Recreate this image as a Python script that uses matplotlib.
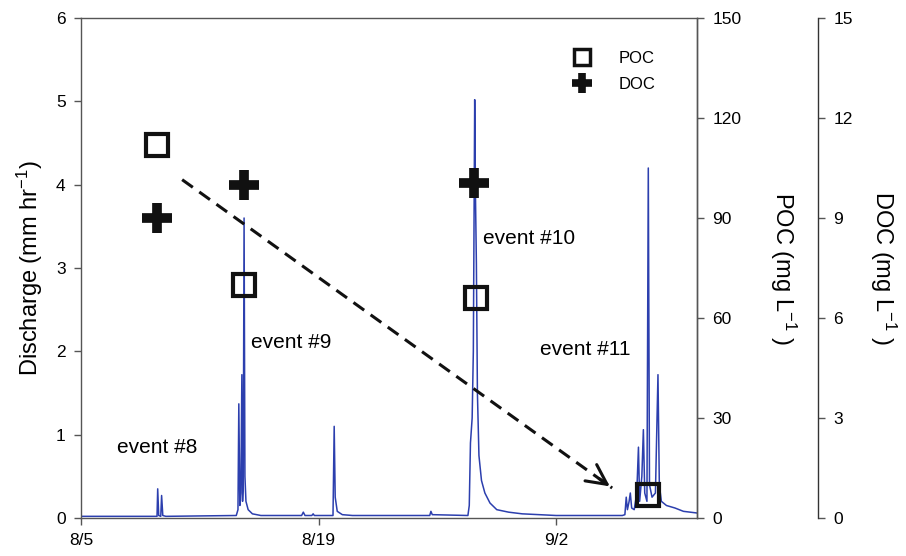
import numpy as np
import pandas as pd
import matplotlib
matplotlib.use("Agg")
import matplotlib.pyplot as plt
import matplotlib.dates as mdates
from matplotlib.lines import Line2D

plt.rcParams['font.family'] = ['Liberation Sans', 'DejaVu Sans']
plt.rcParams['mathtext.fontset'] = 'custom'
plt.rcParams['mathtext.rm'] = 'Liberation Sans'
plt.rcParams['mathtext.it'] = 'Liberation Sans:italic'

start = pd.Timestamp('2011-08-05')

# hydrograph vertices: days after 8/5 and discharge (mm/hr)
q_days = [0.0, 4.40, 4.48, 4.52, 4.58, 4.70, 4.75, 4.82, 5.0,
          9.15, 9.25, 9.30, 9.36, 9.42, 9.48, 9.52, 9.56, 9.61, 9.66, 9.72, 9.85, 10.1, 10.6,
          13.0, 13.1, 13.2, 13.6, 13.68, 13.75,
          14.85, 14.92, 14.98, 15.1, 15.4, 16.0,
          20.55, 20.62, 20.7,
          22.80, 22.88, 22.95, 23.05, 23.12, 23.20, 23.25, 23.30, 23.36, 23.45, 23.6, 23.8,
          24.1, 24.5, 25.2, 26.0, 27.0, 28.0,
          31.9, 32.05, 32.13, 32.2, 32.3, 32.37, 32.45, 32.6, 32.75, 32.85, 32.92, 33.05,
          33.14, 33.22, 33.35, 33.43, 33.5, 33.65, 33.85, 34.0, 34.08, 34.2, 34.5, 35.0,
          35.5, 36.3]
q_vals = [0.02, 0.02, 0.02, 0.35, 0.03, 0.02, 0.27, 0.03, 0.02,
          0.03, 0.10, 1.37, 0.15, 0.30, 1.72, 0.20, 0.40, 3.60, 0.50, 0.20, 0.10, 0.05, 0.03,
          0.03, 0.07, 0.03, 0.03, 0.05, 0.03,
          0.03, 1.10, 0.25, 0.08, 0.04, 0.03,
          0.03, 0.08, 0.04,
          0.03, 0.15, 0.90, 1.20, 2.00, 5.02, 3.80, 3.05, 1.50, 0.75, 0.45, 0.30,
          0.18, 0.10, 0.07, 0.05, 0.04, 0.03,
          0.03, 0.04, 0.25, 0.10, 0.20, 0.30, 0.12, 0.10, 0.30, 0.85, 0.20, 0.50,
          1.06, 0.30, 0.20, 4.20, 0.40, 0.25, 0.30, 1.72, 0.40, 0.20, 0.15, 0.12,
          0.08, 0.06]

# sampled concentrations
poc_days = [4.48, 9.61, 23.29, 33.40]
poc_vals = [112, 70, 66, 7]
doc_days = [4.48, 9.61, 23.17]
doc_vals = [9.0, 10.0, 10.05]

event_labels = ['event #8', 'event #9', 'event #10', 'event #11']
event_pos = [(2.15, 0.85), (10.0, 2.1), (23.7, 3.35), (27.05, 2.02)]

trend_start = (5.96, 4.06)
trend_end = (31.3, 0.36)


def to_dates(days):
    return start + pd.to_timedelta(days, unit='D')


fig = plt.figure(figsize=(9.06, 5.56), dpi=100)
ax = fig.add_axes([81 / 906, 38 / 556, 616 / 906, 500 / 556])
poc_ax = ax.twinx()
doc_ax = ax.twinx()
doc_ax.spines['right'].set_position(('axes', (818 - 81) / 616))

spine_col = '#555555'
for a in (ax, poc_ax, doc_ax):
    for s in a.spines.values():
        s.set_color(spine_col)
        s.set_linewidth(1.0)
    a.tick_params(direction='out', length=5, width=1, color=spine_col,
                  labelsize=12.5, pad=6)
for a in (poc_ax, doc_ax):
    a.spines['left'].set_visible(False)
    a.spines['top'].set_visible(False)
    a.spines['bottom'].set_visible(False)
doc_ax.spines['right'].set_color('#333333')

ax.plot(to_dates(q_days), q_vals, color='#2c3fae', lw=1.1, zorder=2)

ax.set_xlim(start, to_dates([36.3])[0])
ax.set_ylim(0, 6)
ax.set_xticks(to_dates([0, 14, 28]))
ax.xaxis.set_major_formatter(mdates.DateFormatter('%-m/%-d'))
ax.set_yticks(range(0, 7))
ax.set_ylabel('Discharge (mm hr$^{-1}$)', fontsize=17, labelpad=8)

poc_ax.set_ylim(0, 150)
poc_ax.set_yticks(range(0, 151, 30))
poc_ax.plot(to_dates(poc_days), poc_vals, ls='none', marker='s', ms=16,
            mfc='none', mec='#111111', mew=3, zorder=5)
poc_ax.set_ylabel('POC (mg L$^{-1}$ )', fontsize=17, rotation=270,
                  va='bottom', labelpad=19)

doc_ax.set_ylim(0, 15)
doc_ax.set_yticks(range(0, 16, 3))
doc_ax.plot(to_dates(doc_days), doc_vals, ls='none', marker='+', ms=21,
            mec='#111111', mew=7, zorder=5)
doc_ax.set_ylabel('DOC (mg L$^{-1}$ )', fontsize=17, rotation=270,
                  va='bottom', labelpad=11)

for txt, (d, q) in zip(event_labels, event_pos):
    ax.text(to_dates([d])[0], q, txt, fontsize=15, ha='left', va='center')

# dashed trend arrow
xs = to_dates([trend_start[0], trend_end[0]])
ax.plot(xs, [trend_start[1], trend_end[1]], color='#111111', lw=2.2,
        dashes=(4.3, 2.6), zorder=4)
ax.annotate('', xy=(xs[1], trend_end[1]),
            xytext=(to_dates([trend_end[0] - 0.9])[0],
                    trend_end[1] + 0.9 * (trend_start[1] - trend_end[1]) /
                    (trend_end[0] - trend_start[0])),
            arrowprops=dict(arrowstyle='->,head_length=0.8,head_width=0.4',
                            color='#111111', lw=2.2, mutation_scale=18),
            zorder=4)

handles = [Line2D([], [], ls='none', marker='s', ms=11, mfc='none',
                  mec='#111111', mew=2.5, label='POC'),
           Line2D([], [], ls='none', marker='+', ms=15, mec='#111111',
                  mew=5.5, label='DOC')]
ax.legend(handles=handles, loc='upper left', bbox_to_anchor=(0.762, 0.965),
          frameon=False, fontsize=12, handletextpad=1.2, labelspacing=0.7)

fig.savefig('out.png', dpi=100)
